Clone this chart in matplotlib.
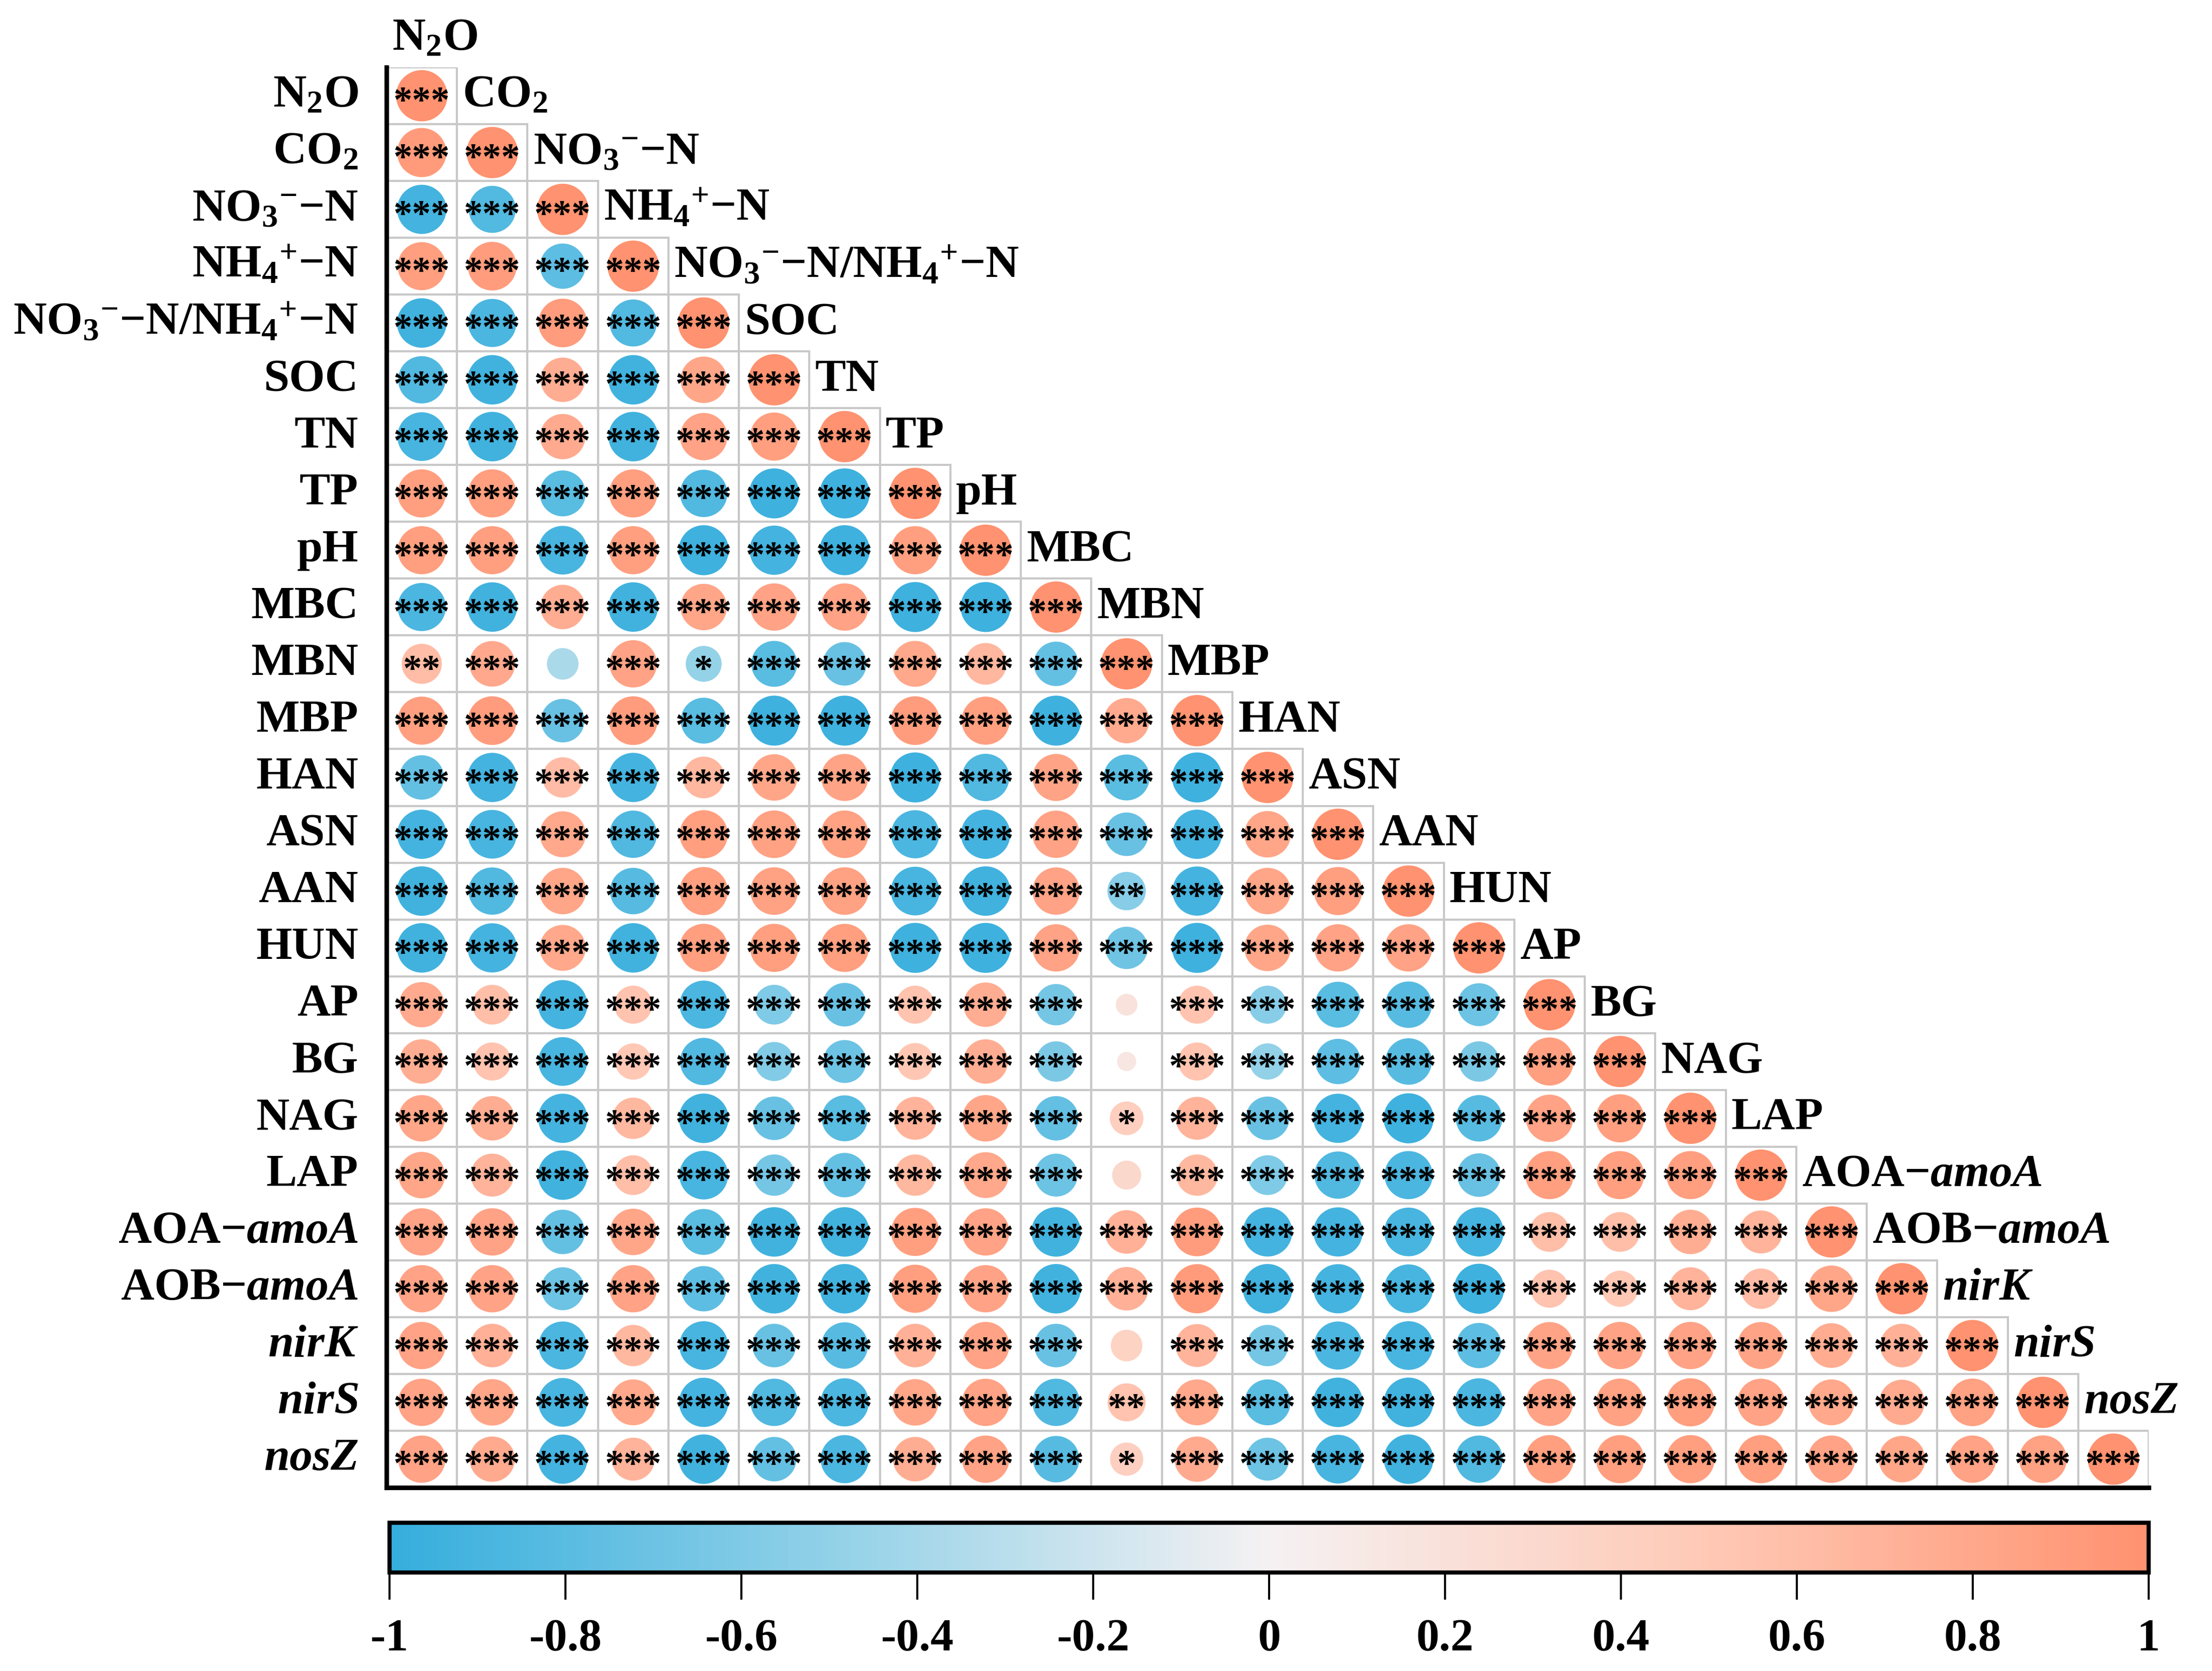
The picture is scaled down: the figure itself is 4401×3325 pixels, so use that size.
import numpy as np
import matplotlib
matplotlib.use("Agg")
import matplotlib.pyplot as plt
from matplotlib.colors import LinearSegmentedColormap, Normalize
from matplotlib.patches import Rectangle
import matplotlib.cm as cm

# variable names (rows / columns of the lower triangle)
labels = [
    r'$\mathrm{N_2O}$', r'$\mathrm{CO_2}$', r'$\mathrm{NO_3{}^{-}{-}N}$',
    r'$\mathrm{NH_4{}^{+}{-}N}$', r'$\mathrm{NO_3{}^{-}{-}N/NH_4{}^{+}{-}N}$',
    'SOC', 'TN', 'TP', 'pH', 'MBC', 'MBN', 'MBP', 'HAN', 'ASN', 'AAN', 'HUN',
    'AP', 'BG', 'NAG', 'LAP', r'AOA$-\mathit{amoA}$', r'AOB$-\mathit{amoA}$',
    r'$\mathit{nirK}$', r'$\mathit{nirS}$', r'$\mathit{nosZ}$',
]

# correlation coefficients, lower triangle row by row
corr = [
    [1],
    [0.92, 1],
    [-0.92, -0.84, 1],
    [0.88, 0.90, -0.78, 1],
    [-0.93, -0.88, 0.90, -0.84, 1],
    [-0.85, -0.93, 0.75, -0.93, 0.82, 1],
    [-0.90, -0.93, 0.78, -0.93, 0.85, 0.88, 1],
    [0.88, 0.88, -0.80, 0.88, -0.85, -0.95, -0.95, 1],
    [0.88, 0.88, -0.90, 0.88, -0.95, -0.92, -0.95, 0.88, 1],
    [-0.88, -0.93, 0.75, -0.93, 0.82, 0.85, 0.85, -0.95, -0.95, 1],
    [0.61, 0.79, -0.38, 0.85, -0.49, -0.80, -0.72, 0.80, 0.66, -0.75, 1],
    [0.88, 0.90, -0.72, 0.90, -0.80, -0.95, -0.95, 0.90, 0.88, -0.95, 0.78, 1],
    [-0.75, -0.92, 0.62, -0.92, 0.66, 0.82, 0.84, -0.95, -0.85, 0.84, -0.80, -0.95, 1],
    [-0.92, -0.90, 0.80, -0.85, 0.88, 0.86, 0.86, -0.88, -0.92, 0.85, -0.72, -0.92, 0.82, 1],
    [-0.93, -0.85, 0.82, -0.82, 0.88, 0.86, 0.86, -0.90, -0.93, 0.85, -0.56, -0.92, 0.82,
     0.88, 1],
    [-0.93, -0.92, 0.80, -0.93, 0.88, 0.88, 0.88, -0.95, -0.95, 0.85, -0.68, -0.95, 0.82,
     0.85, 0.85, 1],
    [0.78, 0.60, -0.92, 0.55, -0.88, -0.60, -0.72, 0.55, 0.75, -0.65, 0.18, 0.55, -0.55,
     -0.80, -0.82, -0.70, 1],
    [0.75, 0.55, -0.90, 0.50, -0.85, -0.58, -0.70, 0.52, 0.75, -0.62, 0.14, 0.55, -0.50,
     -0.78, -0.82, -0.62, 0.88, 1],
    [0.82, 0.75, -0.92, 0.65, -0.93, -0.72, -0.80, 0.70, 0.82, -0.75, 0.43, 0.70, -0.72,
     -0.92, -0.95, -0.82, 0.85, 0.88, 1],
    [0.82, 0.70, -0.93, 0.60, -0.90, -0.65, -0.75, 0.65, 0.80, -0.70, 0.32, 0.65, -0.60,
     -0.85, -0.88, -0.72, 0.88, 0.88, 0.88, 1],
    [0.85, 0.85, -0.75, 0.82, -0.80, -0.93, -0.93, 0.88, 0.85, -0.93, 0.72, 0.90, -0.92,
     -0.92, -0.90, -0.92, 0.60, 0.60, 0.75, 0.70, 1],
    [0.85, 0.85, -0.70, 0.85, -0.78, -0.93, -0.93, 0.88, 0.85, -0.93, 0.72, 0.92, -0.93,
     -0.92, -0.90, -0.95, 0.55, 0.50, 0.70, 0.62, 0.82, 1],
    [0.85, 0.72, -0.88, 0.65, -0.90, -0.72, -0.82, 0.72, 0.85, -0.72, 0.38, 0.70, -0.65,
     -0.88, -0.90, -0.78, 0.84, 0.85, 0.85, 0.84, 0.76, 0.72, 1],
    [0.85, 0.82, -0.90, 0.80, -0.92, -0.85, -0.88, 0.82, 0.85, -0.85, 0.55, 0.80, -0.80,
     -0.93, -0.93, -0.88, 0.85, 0.86, 0.88, 0.85, 0.80, 0.78, 0.86, 1],
    [0.85, 0.78, -0.92, 0.70, -0.93, -0.75, -0.88, 0.75, 0.85, -0.82, 0.42, 0.78, -0.70,
     -0.90, -0.93, -0.85, 0.88, 0.88, 0.88, 0.88, 0.85, 0.82, 0.85, 0.86, 1],
]

# number of significance stars per cell (0 = none)
stars = [
    "3",
    "33",
    "333",
    "3333",
    "33333",
    "333333",
    "3333333",
    "33333333",
    "333333333",
    "3333333333",
    "23031333333",
    "333333333333",
    "3333333333333",
    "33333333333333",
    "333333333323333",
    "3333333333333333",
    "33333333330333333",
    "333333333303333333",
    "3333333333133333333",
    "33333333330333333333",
    "333333333333333333333",
    "3333333333333333333333",
    "33333333330333333333333",
    "333333333323333333333333",
    "3333333333133333333333333",
]

cb_ticks = [-1, -0.8, -0.6, -0.4, -0.2, 0, 0.2, 0.4, 0.6, 0.8, 1]
cb_labels = ['-1', '-0.8', '-0.6', '-0.4', '-0.2', '0', '0.2', '0.4', '0.6', '0.8', '1']

plt.rcParams['font.family'] = 'Liberation Serif'
plt.rcParams['font.weight'] = 'bold'
plt.rcParams['mathtext.fontset'] = 'custom'
plt.rcParams['mathtext.rm'] = 'Liberation Serif:bold'
plt.rcParams['mathtext.it'] = 'Liberation Serif:italic:bold'
plt.rcParams['mathtext.bf'] = 'Liberation Serif:bold'

cmap = LinearSegmentedColormap.from_list(
    'corr', [(0.0, '#35AEDD'), (0.25, '#92D1E8'), (0.5, '#F5F1F2'),
             (0.75, '#FFC9B6'), (1.0, '#FF9270')])
norm = Normalize(-1, 1)

W, H = 4401, 3325
fig = plt.figure(figsize=(W / 300, H / 300), dpi=300)
ax = fig.add_axes([769 / W, 1 - 2960 / H, (4275 - 769) / W, (2960 - 134) / H])

n = len(labels)
ax.set_xlim(0, n)
ax.set_ylim(n, 0)

xs, ys, vals = [], [], []
for i in range(n):
    for j in range(i + 1):
        ax.add_patch(Rectangle((j, i), 1, 1, fill=False, ec='#C8C8C8', lw=1.0, zorder=1))
        xs.append(j + 0.5)
        ys.append(i + 0.5)
        vals.append(corr[i][j])
vals = np.array(vals)

ax.scatter(xs, ys, s=600 * np.abs(vals), c=vals, cmap=cmap, norm=norm,
           linewidths=0, zorder=2)

for i in range(n):
    for j in range(i + 1):
        k = int(stars[i][j])
        if k:
            ax.text(j + 0.5, i + 0.63, '*' * k, ha='center', va='center',
                    fontsize=18, zorder=3)

# row labels on the left, column labels along the diagonal
for i, lab in enumerate(labels):
    ax.text(-0.4, i + 0.5, lab, ha='right', va='center', fontsize=22)
    ax.text(i + 0.08, i - 0.5, lab, ha='left', va='center', fontsize=22, clip_on=False)

ax.set_xticks([])
ax.set_yticks([])
for s in ['top', 'right']:
    ax.spines[s].set_visible(False)
for s in ['left', 'bottom']:
    ax.spines[s].set_linewidth(2.2)

# colour bar
cax = fig.add_axes([775 / W, 1 - 3129 / H, 3500 / W, 99 / H])
cb = fig.colorbar(cm.ScalarMappable(norm=norm, cmap=cmap), cax=cax, orientation='horizontal')
cb.set_ticks(cb_ticks)
cb.set_ticklabels(cb_labels)
cax.tick_params(length=13, width=1, direction='out', labelsize=22, pad=9)
cb.outline.set_linewidth(2.0)

plt.savefig('out.png', dpi=300)
